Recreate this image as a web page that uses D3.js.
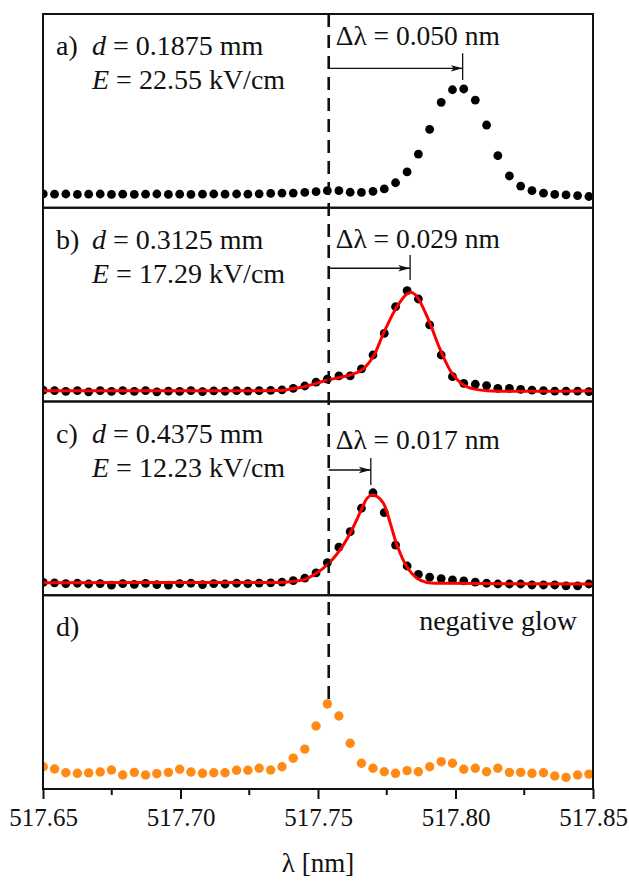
<!DOCTYPE html>
<html lang="en">
<head>
<meta charset="UTF-8">
<title>Line shift panels</title>
<script src="https://cdn.jsdelivr.net/npm/d3@7"></script>
<style>
  body { margin: 0; background: #fff; }
  svg text { fill: #111; }
</style>
</head>
<body>
<svg id="chart" width="629" height="881"></svg>
<script>
// wavelength grid of the measured points (nm)
const wavelength = [
  517.6501, 517.6542, 517.6583, 517.6625, 517.6666, 517.6708, 517.6749, 517.6790, 517.6832, 517.6873,
  517.6914, 517.6956, 517.6997, 517.7038, 517.7080, 517.7121, 517.7162, 517.7204, 517.7245, 517.7286,
  517.7328, 517.7369, 517.7410, 517.7452, 517.7493, 517.7534, 517.7576, 517.7617, 517.7658, 517.7700,
  517.7741, 517.7782, 517.7824, 517.7865, 517.7906, 517.7948, 517.7989, 517.8030, 517.8072, 517.8113,
  517.8154, 517.8196, 517.8237, 517.8278, 517.8320, 517.8361, 517.8402, 517.8444, 517.8485
];

// normalised intensities, one array per panel
const intensityA = [
  0.072, 0.070, 0.071, 0.069, 0.070, 0.071, 0.069, 0.070, 0.069, 0.070,
  0.071, 0.069, 0.070, 0.069, 0.070, 0.071, 0.070, 0.071, 0.070, 0.072,
  0.074, 0.076, 0.076, 0.079, 0.083, 0.088, 0.088, 0.080, 0.079, 0.085,
  0.097, 0.129, 0.185, 0.277, 0.405, 0.544, 0.609, 0.613, 0.556, 0.427,
  0.269, 0.164, 0.112, 0.088, 0.075, 0.069, 0.066, 0.063, 0.058
];
const intensityB = [
  0.058, 0.056, 0.052, 0.056, 0.050, 0.056, 0.052, 0.056, 0.052, 0.056,
  0.050, 0.054, 0.052, 0.056, 0.051, 0.055, 0.053, 0.056, 0.054, 0.056,
  0.057, 0.060, 0.068, 0.080, 0.100, 0.115, 0.132, 0.132, 0.168, 0.240,
  0.352, 0.489, 0.572, 0.529, 0.395, 0.240, 0.128, 0.094, 0.089, 0.082,
  0.068, 0.068, 0.063, 0.059, 0.056, 0.054, 0.054, 0.054, 0.051
];
const intensityC = [
  0.066, 0.064, 0.060, 0.062, 0.058, 0.060, 0.052, 0.060, 0.056, 0.061,
  0.055, 0.052, 0.060, 0.062, 0.055, 0.060, 0.058, 0.062, 0.060, 0.063,
  0.064, 0.068, 0.075, 0.088, 0.116, 0.168, 0.248, 0.328, 0.449, 0.529,
  0.426, 0.259, 0.151, 0.108, 0.093, 0.086, 0.079, 0.074, 0.068, 0.062,
  0.058, 0.058, 0.058, 0.053, 0.053, 0.053, 0.048, 0.048, 0.058
];
const intensityD = [
  0.115, 0.103, 0.084, 0.081, 0.083, 0.088, 0.098, 0.072, 0.086, 0.072,
  0.079, 0.086, 0.102, 0.088, 0.081, 0.084, 0.084, 0.097, 0.097, 0.107,
  0.098, 0.115, 0.159, 0.206, 0.325, 0.439, 0.377, 0.236, 0.133, 0.107,
  0.089, 0.081, 0.095, 0.089, 0.115, 0.141, 0.133, 0.102, 0.107, 0.089,
  0.107, 0.086, 0.086, 0.081, 0.084, 0.067, 0.060, 0.072, 0.077
];

// fitted profiles (red lines) for panels b and c
const fitBWavelength = [517.6500, 517.7300, 517.7373, 517.7400, 517.7446, 517.7536, 517.7617, 517.7660,
  517.7702, 517.7738, 517.7787, 517.7823, 517.7842, 517.7860, 517.7902, 517.7945, 517.7987, 517.8029,
  517.8066, 517.8115, 517.8500];
const fitBValue = [0.056, 0.056, 0.058, 0.064, 0.075, 0.111, 0.137, 0.163,
  0.235, 0.352, 0.489, 0.555, 0.562, 0.541, 0.421, 0.266, 0.146, 0.085,
  0.065, 0.056, 0.056];
const fitCWavelength = [517.6500, 517.7300, 517.7373, 517.7410, 517.7446, 517.7494, 517.7536, 517.7580,
  517.7617, 517.7660, 517.7678, 517.7696, 517.7716, 517.7738, 517.7763, 517.7787, 517.7823, 517.7860,
  517.7896, 517.7981, 517.8500];
const fitCValue = [0.065, 0.066, 0.067, 0.072, 0.079, 0.114, 0.160, 0.234,
  0.320, 0.449, 0.500, 0.517, 0.508, 0.475, 0.371, 0.259, 0.147, 0.088,
  0.066, 0.062, 0.058];

// unshifted line position and fitted peak positions (nm)
const lambda0 = 517.7539;
const peakPositions = [517.8026, 517.7835, 517.7692];
const shiftLabels = ["Δλ = 0.050 nm", "Δλ = 0.029 nm", "Δλ = 0.017 nm"];

const panelLetters = ["a)", "b)", "c)", "d)"];
const gapLabels = ["0.1875 mm", "0.3125 mm", "0.4375 mm"];
const fieldLabels = ["22.55 kV/cm", "17.29 kV/cm", "12.23 kV/cm"];
const glowLabel = "negative glow";

const xTicks = [517.65, 517.70, 517.75, 517.80, 517.85];
const xMinorTicks = [517.675, 517.725, 517.775, 517.825];
const xTitle = "λ [nm]";

// ---- layout ----
const plotLeft = 43, plotRight = 593, plotTop = 14, plotBottom = 789;
const panelH = (plotBottom - plotTop) / 4;
const serif = "'Liberation Serif', 'Times New Roman', serif";
// annotation offsets from the top of each panel: text baseline, arrow, tick top, tick bottom
const shiftLayout = [
  {text: 31, arrow: 54.3, t0: 39.3, t1: 66},
  {text: 40.5, arrow: 60.5, t0: 47.3, t1: 72.3},
  {text: 47.8, arrow: 68.5, t0: 56.5, t1: 83.5}
];

const svg = d3.select("#chart");

const x = d3.scaleLinear().domain([517.65, 517.85]).range([plotLeft, plotRight]);

const panels = [
  {values: intensityA, color: "#000", r: 4.4},
  {values: intensityB, color: "#000", r: 4.4, fitX: fitBWavelength, fitY: fitBValue},
  {values: intensityC, color: "#000", r: 4.4, fitX: fitCWavelength, fitY: fitCValue},
  {values: intensityD, color: "#ff8a14", r: 4.7}
];

const defs = svg.append("defs");
defs.append("marker")
    .attr("id", "arrowHead")
    .attr("viewBox", "0 0 12 8")
    .attr("refX", 12).attr("refY", 4)
    .attr("markerWidth", 12).attr("markerHeight", 8)
    .attr("markerUnits", "userSpaceOnUse")
    .attr("orient", "auto")
    .append("path")
    .attr("d", "M0,0.8 L12,4 L0,7.2 L3,4 Z")
    .attr("fill", "#111");

const yScales = [];

panels.forEach((p, i) => {
    const pTop = plotTop + i * panelH;
    const pBottom = pTop + panelH;
    const y = d3.scaleLinear().domain([0, 1]).range([pBottom, pTop]);
    yScales.push(y);

    defs.append("clipPath").attr("id", "clip" + i)
        .append("rect")
        .attr("x", plotLeft).attr("y", pTop)
        .attr("width", plotRight - plotLeft).attr("height", panelH);

    const g = svg.append("g").attr("clip-path", `url(#clip${i})`);

    g.selectAll("circle")
        .data(p.values)
        .join("circle")
        .attr("cx", (d, j) => x(wavelength[j]))
        .attr("cy", d => y(d))
        .attr("r", p.r)
        .attr("fill", p.color);

    if (p.fitX) {
        const line = d3.line()
            .x((d, j) => x(p.fitX[j]))
            .y(d => y(d))
            .curve(d3.curveCatmullRom.alpha(0.5));
        g.append("path")
            .attr("d", line(p.fitY))
            .attr("fill", "none")
            .attr("stroke", "#ff0000")
            .attr("stroke-width", 3);
    }
});

// dashed line at the unshifted position, down to the glow peak
const peakIndex = d3.maxIndex(intensityD);
svg.append("line")
    .attr("x1", x(lambda0)).attr("x2", x(lambda0))
    .attr("y1", plotTop).attr("y2", yScales[3](intensityD[peakIndex]) - 3)
    .attr("stroke", "#111")
    .attr("stroke-width", 2.6)
    .attr("stroke-dasharray", "13,8");

// frames
for (let i = 0; i < 4; i++) {
    svg.append("rect")
        .attr("x", plotLeft).attr("y", plotTop + i * panelH)
        .attr("width", plotRight - plotLeft).attr("height", panelH)
        .attr("fill", "none")
        .attr("stroke", "#111")
        .attr("stroke-width", 2);
}

function addText(px, py, size, anchor) {
    return svg.append("text")
        .attr("x", px).attr("y", py)
        .style("font-family", serif)
        .attr("font-size", size)
        .attr("text-anchor", anchor || "start");
}

// shift arrows and labels
peakPositions.forEach((pk, i) => {
    const pTop = plotTop + i * panelH;
    const L = shiftLayout[i];
    svg.append("line")
        .attr("x1", x(lambda0)).attr("x2", x(pk))
        .attr("y1", pTop + L.arrow).attr("y2", pTop + L.arrow)
        .attr("stroke", "#111").attr("stroke-width", 1.3)
        .attr("marker-end", "url(#arrowHead)");
    svg.append("line")
        .attr("x1", x(pk)).attr("x2", x(pk))
        .attr("y1", pTop + L.t0).attr("y2", pTop + L.t1)
        .attr("stroke", "#111").attr("stroke-width", 1.3);
    addText(x(lambda0) + 7, pTop + L.text, 27.5).text(shiftLabels[i]);
});

// panel labels
panelLetters.forEach((lab, i) => {
    const pTop = plotTop + i * panelH;
    addText(56, pTop + 41, 28).text(lab);
    if (i < 3) {
        const t1 = addText(92, pTop + 41, 28);
        t1.append("tspan").attr("font-style", "italic").text("d");
        t1.append("tspan").text(" = " + gapLabels[i]);
        const t2 = addText(92, pTop + 75, 28);
        t2.append("tspan").attr("font-style", "italic").text("E");
        t2.append("tspan").text(" = " + fieldLabels[i]);
    }
});
addText(577, plotTop + 3 * panelH + 35, 28, "end").text(glowLabel);

// x axis
const xAxis = d3.axisBottom(x)
    .tickValues(xTicks)
    .tickFormat(d3.format(".2f"))
    .tickSize(10)
    .tickPadding(9);
const axisG = svg.append("g")
    .attr("transform", `translate(0,${plotBottom})`)
    .call(xAxis);
axisG.select(".domain").remove();
axisG.selectAll(".tick line").attr("stroke", "#111").attr("stroke-width", 2);
axisG.selectAll(".tick text")
    .style("font-family", serif)
    .attr("font-size", 25)
    .attr("fill", "#111");
axisG.selectAll(".minor")
    .data(xMinorTicks)
    .join("line")
    .attr("class", "minor")
    .attr("x1", d => x(d)).attr("x2", d => x(d))
    .attr("y1", 0).attr("y2", 6)
    .attr("stroke", "#111").attr("stroke-width", 2);

addText((plotLeft + plotRight) / 2, 872, 27, "middle").text(xTitle);
</script>
</body>
</html>
